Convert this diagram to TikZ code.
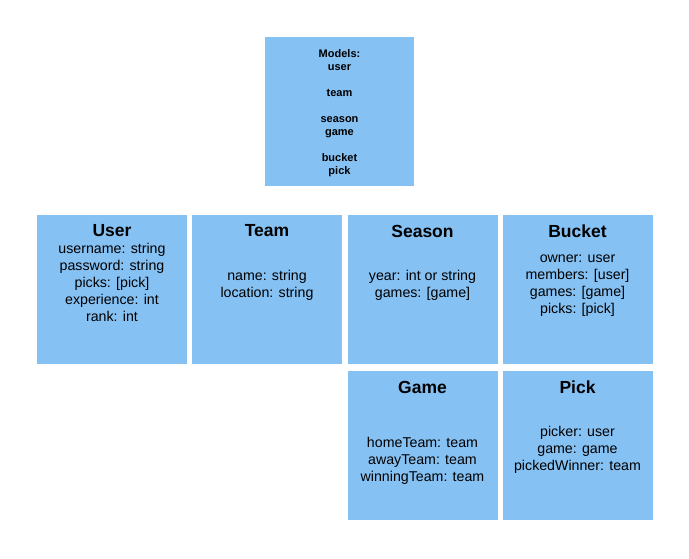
\documentclass[tikz,border=0pt]{standalone}
\usepackage{fontspec}
\setmainfont{Liberation Sans}
\definecolor{boxblue}{RGB}{134,193,243}
\tikzset{
  model/.style={fill=boxblue,draw=none,minimum width=150pt,minimum height=149pt,inner sep=0pt},
  title/.style={font=\fontsize{17.5}{20}\selectfont\bfseries,inner sep=0pt},
  fields/.style={font=\fontsize{14.2}{17}\selectfont,align=center,inner sep=0pt}
}
\begin{document}
\begin{tikzpicture}[x=1pt,y=-1pt]
    \useasboundingbox[fill=white] (0,0) rectangle (689,558);
    %% overview
    \node[model,minimum width=149pt] (models) at (339.5,111.5) {};
    \node[fields,font=\fontsize{11}{13}\selectfont\bfseries] (modellist) at (339.5,113)
        {Models:\\user\\[13pt]team\\[13pt]season\\game\\[13pt]bucket\\pick};
    %% first row
    \node[model] (user) at (112,289.5) {};
    \node[model] (team) at (267,289.5) {};
    \node[model] (season) at (422.5,289.5) {};
    \node[model] (bucket) at (577.5,289.5) {};
    %% second row
    \node[model] (game) at (422.5,445.5) {};
    \node[model] (pick) at (577.5,445.5) {};
    %% titles
    \node[title] (usertitle) at (112,231) {User};
    \node[title] (teamtitle) at (267,231) {Team};
    \node[title] (seasontitle) at (422.5,231) {Season};
    \node[title] (buckettitle) at (577.5,231) {Bucket};
    \node[title] (gametitle) at (422.5,387) {Game};
    \node[title] (picktitle) at (577.5,387) {Pick};
    %% fields
    \node[fields] (userfields) at (112,282.5)
        {username: string\\password: string\\picks: [pick]\\experience: int\\rank: int};
    \node[fields] (teamfields) at (267,285) {name: string\\location: string};
    \node[fields] (seasonfields) at (422.5,285) {year: int or string\\games: [game]};
    \node[fields] (bucketfields) at (577.5,285.5)
        {owner: user\\members: [user]\\games: [game]\\picks: [pick]};
    \node[fields] (gamefields) at (422.5,460.5)
        {homeTeam: team\\awayTeam: team\\winningTeam: team};
    \node[fields] (pickfields) at (577.5,449.5)
        {picker: user\\game: game\\pickedWinner: team};
\end{tikzpicture}
\end{document}
